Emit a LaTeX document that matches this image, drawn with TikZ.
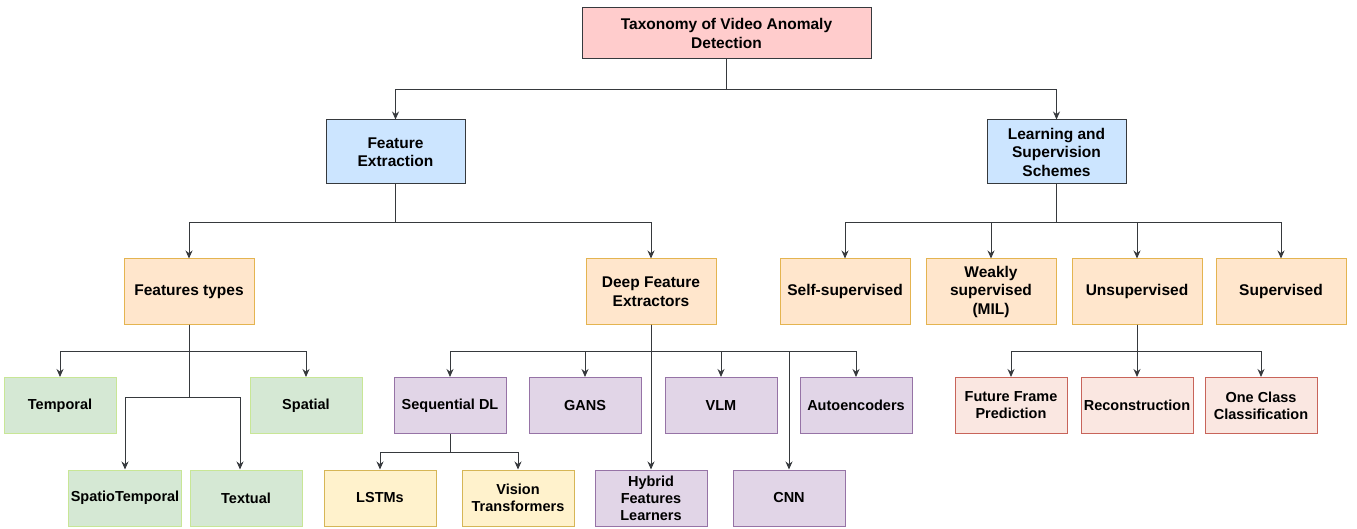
\documentclass[tikz,border=0pt]{standalone}
\usepackage{fontspec}
\setmainfont{Liberation Sans}
\usetikzlibrary{calc, arrows.meta}
\definecolor{rootFill}{RGB}{255, 204, 204}
\definecolor{blueFill}{RGB}{204, 229, 255}
\definecolor{darkLine}{RGB}{54, 57, 61}
\definecolor{orangeFill}{RGB}{255, 230, 204}
\definecolor{orangeLine}{RGB}{228, 180, 80}
\definecolor{greenFill}{RGB}{213, 232, 212}
\definecolor{greenLine}{RGB}{200, 230, 150}
\definecolor{purpleFill}{RGB}{225, 213, 231}
\definecolor{purpleLine}{RGB}{150, 115, 166}
\definecolor{yellowFill}{RGB}{255, 242, 204}
\definecolor{yellowLine}{RGB}{214, 182, 86}
\definecolor{redFill}{RGB}{250, 231, 225}
\definecolor{redLine}{RGB}{200, 100, 90}
\tikzstyle{normalBox} = [shape=rectangle, line width=1pt, text=black,
	align=center, inner sep=2pt, font=\fontsize{15.5}{18.5}\selectfont\bfseries]
\tikzstyle{RootBox} = [normalBox, draw=darkLine, fill=rootFill,
	minimum width=289pt, minimum height=51pt]
\tikzstyle{MainBox} = [normalBox, draw=darkLine, fill=blueFill,
	minimum width=139pt, minimum height=64pt]
\tikzstyle{SubBox} = [normalBox, draw=orangeLine, fill=orangeFill,
	minimum width=130pt, minimum height=65pt]
\tikzstyle{smallBox} = [normalBox, minimum width=112pt, minimum height=56pt,
	font=\fontsize{14.5}{17}\selectfont\bfseries]
\tikzstyle{GreenBox} = [smallBox, draw=greenLine, fill=greenFill]
\tikzstyle{PurpleBox} = [smallBox, draw=purpleLine, fill=purpleFill]
\tikzstyle{YellowBox} = [smallBox, draw=yellowLine, fill=yellowFill]
\tikzstyle{RedBox} = [smallBox, draw=redLine, fill=redFill]
\tikzstyle{normalArrow} = [line width=1pt, -{Stealth[length=8pt,width=7pt]}, draw=darkLine]

\begin{document}
\begin{tikzpicture}[node distance=120pt]
  \useasboundingbox (0,0) rectangle (1357pt,-529pt);
  \node (TAX) [RootBox] at (726.5pt,-33.5pt) {Taxonomy of Video Anomaly\\Detection};
  \node (FEX) [MainBox, below of=TAX, xshift=-331pt, yshift=1.5pt] {Feature\\Extraction};
  \node (LSS) [MainBox, below of=TAX, xshift=330pt, yshift=1.5pt] {Learning and\\Supervision\\Schemes};

  \node (FTY) [SubBox, below of=FEX, xshift=-206.5pt, yshift=-19.5pt] {Features types};
  \node (DFE) [SubBox, below of=FEX, xshift=255.5pt, yshift=-19.5pt] {Deep Feature\\Extractors};
  \node (SSV) [SubBox, below of=LSS, xshift=-211.5pt, yshift=-19.5pt] {Self-supervised};
  \node (WSV) [SubBox, right of=SSV, xshift=26pt] {Weakly\\supervised\\(MIL)};
  \node (UNS) [SubBox, right of=WSV, xshift=26pt] {Unsupervised};
  \node (SUP) [SubBox, right of=UNS, xshift=24pt] {Supervised};

  \node (TMP) [GreenBox, below of=FTY, xshift=-129pt, yshift=6pt] {Temporal};
  \node (SPA) [GreenBox, below of=FTY, xshift=117pt, yshift=6pt] {Spatial};
  \node (STM) [GreenBox, below of=TMP, xshift=65pt, yshift=27.5pt] {SpatioTemporal};
  \node (TXT) [GreenBox, right of=STM, xshift=1pt] {Textual};

  \node (SEQ) [PurpleBox, below of=DFE, xshift=-201pt, yshift=6pt] {Sequential DL};
  \node (GAN) [PurpleBox, right of=SEQ, xshift=15pt] {GANS};
  \node (VLM) [PurpleBox, right of=GAN, xshift=16pt] {VLM};
  \node (AEN) [PurpleBox, right of=VLM, xshift=15pt] {Autoencoders};
  \node (HYB) [PurpleBox, below of=SEQ, xshift=201pt, yshift=27.5pt] {Hybrid\\Features\\Learners};
  \node (CNN) [PurpleBox, right of=HYB, xshift=18pt] {CNN};

  \node (LST) [YellowBox, below of=SEQ, xshift=-70pt, yshift=27.5pt] {LSTMs};
  \node (VIT) [YellowBox, right of=LST, xshift=18pt] {Vision\\Transformers};

  \node (FFP) [RedBox, below of=UNS, xshift=-126pt, yshift=6pt] {Future Frame\\Prediction};
  \node (REC) [RedBox, below of=UNS, yshift=6pt] {Reconstruction};
  \node (OCC) [RedBox, below of=UNS, xshift=124pt, yshift=6pt] {One Class\\Classification};

  % root level
  \draw [normalArrow] (TAX.south) -- ++(0,-30pt) -| (FEX.north);
  \draw [normalArrow] (TAX.south) -- ++(0,-30pt) -| (LSS.north);
  % feature extraction
  \draw [normalArrow] (FEX.south) -- ++(0,-38pt) -| (FTY.north);
  \draw [normalArrow] (FEX.south) -- ++(0,-38pt) -| (DFE.north);
  % features types
  \draw [normalArrow] (FTY.south) -- ++(0,-27pt) -| (TMP.north);
  \draw [normalArrow] (FTY.south) -- ++(0,-27pt) -| (SPA.north);
  \draw [normalArrow] (FTY.south) -- ++(0,-73pt) -| (STM.north);
  \draw [normalArrow] (FTY.south) -- ++(0,-73pt) -| ([xshift=-6pt]TXT.north);
  % deep feature extractors
  \draw [normalArrow] (DFE.south) -- ++(0,-27pt) -| (SEQ.north);
  \draw [normalArrow] (DFE.south) -- ++(0,-27pt) -| (GAN.north);
  \draw [normalArrow] (DFE.south) -- ++(0,-27pt) -| (VLM.north);
  \draw [normalArrow] (DFE.south) -- ++(0,-27pt) -| (AEN.north);
  \draw [normalArrow] (DFE.south) -- ++(0,-27pt) -| (CNN.north);
  \draw [normalArrow] (DFE) -- (HYB);
  \draw [normalArrow] (SEQ.south) -- ++(0,-18pt) -| (LST.north);
  \draw [normalArrow] (SEQ.south) -- ++(0,-18pt) -| (VIT.north);
  % learning and supervision
  \draw [normalArrow] (LSS.south) -- ++(0,-38pt) -| (SSV.north);
  \draw [normalArrow] (LSS.south) -- ++(0,-38pt) -| (WSV.north);
  \draw [normalArrow] (LSS.south) -- ++(0,-38pt) -| (UNS.north);
  \draw [normalArrow] (LSS.south) -- ++(0,-38pt) -| (SUP.north);
  \draw [normalArrow] (UNS.south) -- ++(0,-27pt) -| (FFP.north);
  \draw [normalArrow] (UNS) -- (REC);
  \draw [normalArrow] (UNS.south) -- ++(0,-27pt) -| (OCC.north);

\end{tikzpicture}
\end{document}
